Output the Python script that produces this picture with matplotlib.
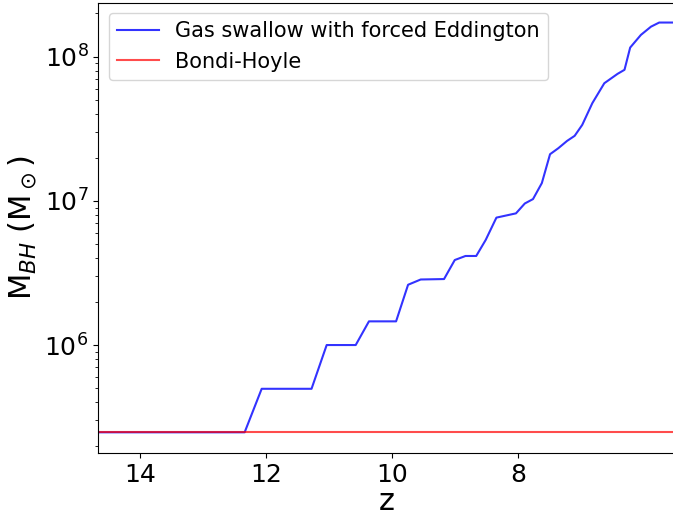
import matplotlib
matplotlib.use('Agg')
import matplotlib.pyplot as plt
import numpy as np

# redshift and black hole mass
z_gas = [14.66, 12.34, 12.07, 11.28, 11.04, 10.58, 10.37, 9.94, 9.75, 9.55,
         9.18, 9.01, 8.84, 8.67, 8.52, 8.35, 8.04, 7.90, 7.77, 7.63, 7.50,
         7.37, 7.23, 7.11, 6.99, 6.83, 6.64, 6.43, 6.32, 6.23, 6.06, 5.90,
         5.77, 5.50]
m_gas = [2.48e5, 2.48e5, 4.97e5, 4.97e5, 1.0e6, 1.0e6, 1.46e6, 1.46e6, 2.62e6, 2.85e6,
         2.87e6, 3.89e6, 4.15e6, 4.15e6, 5.36e6, 7.66e6, 8.2e6, 9.6e6, 1.03e7, 1.33e7,
         2.11e7, 2.32e7, 2.61e7, 2.83e7, 3.37e7, 4.77e7, 6.56e7, 7.62e7, 8.13e7, 1.16e8,
         1.42e8, 1.62e8, 1.73e8, 1.73e8]

z_bondi = [14.66, 5.50]
m_bondi = [2.48e5, 2.48e5]

fig = plt.figure(figsize=(6.73, 5.16), dpi=100)
ax = fig.add_axes([0.146, 0.122, 0.856, 0.873])

ax.plot(z_gas, m_gas, color='blue', alpha=0.8, label='Gas swallow with forced Eddington')
ax.plot(z_bondi, m_bondi, color='red', alpha=0.7, label='Bondi-Hoyle')

ax.set_yscale('log')
ax.set_xlim(14.66, 5.53)
ax.set_ylim(1.78e5, 2.38e8)
ax.set_xticks([14, 12, 10, 8])

ax.set_xlabel('z', fontsize=22, labelpad=0)
ax.set_ylabel(r'M$_{BH}$ (M$_\odot$)', fontsize=22)
ax.tick_params(labelsize=18)

# legend in the top left corner
ax.legend(loc='upper left', fontsize=15)

fig.savefig('out.png', dpi=100)
plt.close()
